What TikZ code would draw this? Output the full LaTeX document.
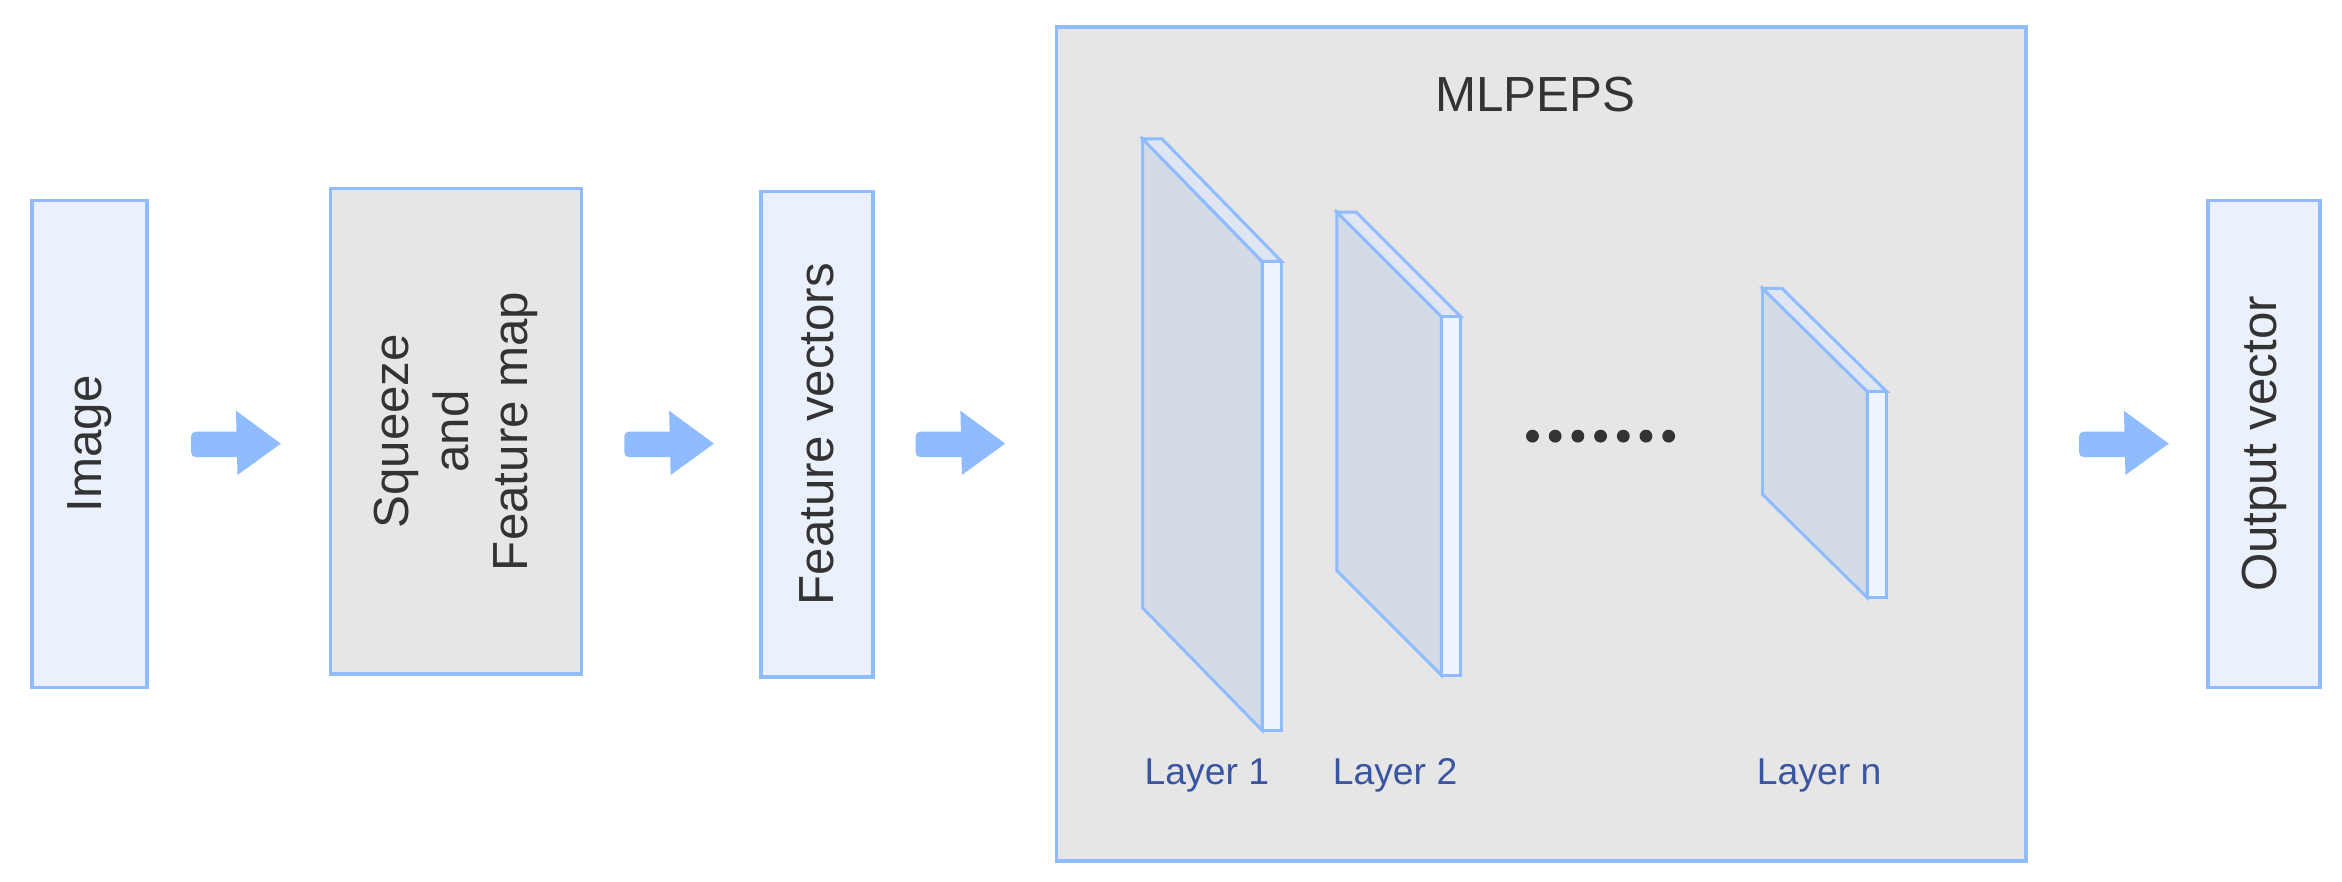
\documentclass[tikz,border=0pt]{standalone}
\usepackage{fontspec}
\setmainfont{Liberation Sans}
\definecolor{bstroke}{HTML}{8FBBFF}
\definecolor{lfill}{HTML}{EAF1FC}
\definecolor{gfill}{HTML}{E6E6E6}
\definecolor{sface}{HTML}{D3DBE6}
\definecolor{stop}{HTML}{DFE6F2}
\definecolor{sside}{HTML}{EEF4FF}
\definecolor{txt}{HTML}{333333}
\definecolor{ltxt}{HTML}{3A55A0}
\begin{document}
\begin{tikzpicture}[x=1pt,y=-1pt,
  box/.style={draw=bstroke,line width=2.5pt,inner sep=0pt,anchor=north west},
  lbox/.style={box,fill=lfill},
  gbox/.style={box,fill=gfill},
  vtxt/.style={rotate=90,font=\fontsize{33}{40}\selectfont,text=txt,align=center},
  lbl/.style={font=\fontsize{25}{30}\selectfont,text=ltxt},
  slab/.style={draw=bstroke,line width=2pt,line join=miter},
  arr/.style={fill=bstroke}]
\useasboundingbox (0,0) rectangle (1568,590);
\node[lbox,minimum width=77pt,minimum height=326pt] (img) at (20,133) {};
\node[vtxt] at (img.center) {Image};
\node[gbox,minimum width=168pt,minimum height=325pt] (sq) at (220,125) {};
\node[vtxt] at (sq.center) {Squeeze\\and\\Feature map};
\node[lbox,minimum width=75pt,minimum height=325pt] (fv) at (508,127) {};
\node[vtxt] at (fv.center) {Feature vectors};
\node[gbox,minimum width=649pt,minimum height=558pt] (ml) at (706,17) {};
\node[font=\fontsize{33}{40}\selectfont,text=txt] (mlt) at (1028,63) {MLPEPS};
\node[lbox,minimum width=75pt,minimum height=326pt] (ov) at (1477,133) {};
\node[vtxt] at (ov.center) {Output vector};
% arrows
\foreach \x in {128,418,613,1392}{
  \fill[arr,rounded corners=3pt] (\x,289) rectangle (\x+35,306);
  \fill[arr] (\x+30,275) -- (\x+60,297) -- (\x+31,318) -- cycle;
}
% slabs: \sl{x}{y}{dx}{dy}{h}
\newcommand\myslab[5]{%
  \filldraw[slab,fill=sface] (#1,#2) -- (#1+#3,#2+#4) -- (#1+#3,#2+#4+#5) -- (#1,#2+#5) -- cycle;
  \filldraw[slab,fill=stop] (#1,#2) -- (#1+13,#2) -- (#1+#3+13,#2+#4) -- (#1+#3,#2+#4) -- cycle;
  \filldraw[slab,fill=sside] (#1+#3,#2+#4) -- (#1+#3+13,#2+#4) -- (#1+#3+13,#2+#4+#5) -- (#1+#3,#2+#4+#5) -- cycle;}
\myslab{765}{93}{80}{82}{314}
\myslab{895}{142}{70}{70}{240}
\myslab{1180}{193}{70}{69}{138}
\foreach \i in {0,...,6}{\fill[txt] (1026+\i*15.2,292) circle (4.3);}
\node[lbl] (l1) at (808,519) {Layer 1};
\node[lbl] (l2) at (934,519) {Layer 2};
\node[lbl] (ln) at (1218,519) {Layer n};
\end{tikzpicture}
\end{document}
